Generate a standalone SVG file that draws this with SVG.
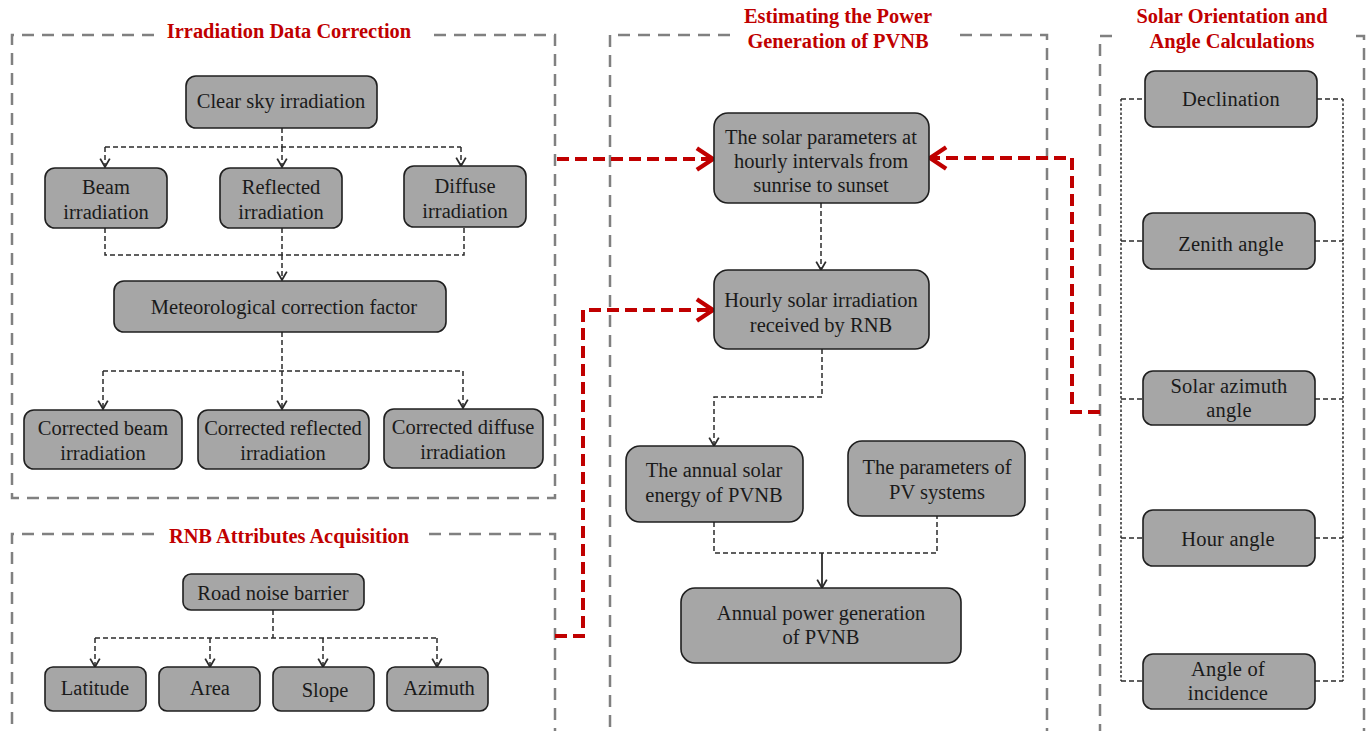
<svg xmlns="http://www.w3.org/2000/svg" width="1372" height="731" viewBox="0 0 1372 731">
<style>
.panel{fill:none;stroke:#808080;stroke-width:2.5;stroke-dasharray:12 8}
.title{font-family:"Liberation Serif",serif;font-weight:bold;font-size:20.4px;fill:#c00000;text-anchor:middle}
.box{fill:#a6a6a6;stroke:#1f1f1f;stroke-width:1.6}
.t{font-family:"Liberation Serif",serif;font-size:20.5px;fill:#1a1a1a;text-anchor:middle}
.ts{font-family:"Liberation Serif",serif;font-size:20.5px;fill:#1a1a1a;text-anchor:middle;letter-spacing:0.2px}
.c{fill:none;stroke:#2b2b2b;stroke-width:1.5;stroke-dasharray:5 3}
.cd{fill:none;stroke:#2b2b2b;stroke-width:1.5;stroke-dasharray:2.5 2}
.cs{fill:none;stroke:#2b2b2b;stroke-width:1.8}
.r{fill:none;stroke:#c00000;stroke-width:4;stroke-dasharray:12 6}
</style>
<defs>
<marker id="ad" markerUnits="userSpaceOnUse" markerWidth="12" markerHeight="12" viewBox="-1 -1 9 10" refX="7" refY="4" orient="auto">
<path d="M0,0 L7,4 L0,8" fill="none" stroke="#2b2b2b" stroke-width="1.5" stroke-dasharray="none"/>
</marker>
<marker id="ar" markerUnits="userSpaceOnUse" markerWidth="26" markerHeight="28" viewBox="-3 -3 20 26" refX="15" refY="10" orient="auto">
<path d="M0,0 L15,10 L0,20" fill="none" stroke="#c00000" stroke-width="4" stroke-dasharray="none" stroke-linejoin="miter"/>
</marker>
</defs>

<g id="panels">
<path class="panel" d="M154,35 L12,35 L12,498 L555,498 L555,35 L427,35"/>
<text class="title" x="289" y="38">Irradiation Data Correction</text>
<path class="panel" d="M154,534 L12,534 L12,740 M555,740 L555,534 L427,534"/>
<text class="title" x="289" y="543">RNB Attributes Acquisition</text>
<path class="panel" d="M730,35 L610,35 L610,740 M1047,740 L1047,35 L955,35"/>
<text class="title" x="838" y="23">Estimating the Power</text>
<text class="title" x="838" y="48">Generation of PVNB</text>
<path class="panel" d="M1112,36 L1100,36 L1100,740 M1364,740 L1364,36 L1352,36"/>
<text class="title" x="1232" y="23">Solar Orientation and</text>
<text class="title" x="1232" y="48">Angle Calculations</text>
</g>

<g id="connectors">
<path class="c" d="M282,128 V147 M105,147 H461"/>
<path class="c" d="M105,147 V167" marker-end="url(#ad)"/>
<path class="c" d="M282,147 V167" marker-end="url(#ad)"/>
<path class="c" d="M461,147 V166" marker-end="url(#ad)"/>
<path class="c" d="M105,228 V255 H464 V227 M282,228 V255"/>
<path class="c" d="M282,255 V280" marker-end="url(#ad)"/>
<path class="c" d="M282,332 V371 M103,371 H463"/>
<path class="c" d="M103,371 V409" marker-end="url(#ad)"/>
<path class="c" d="M282,371 V409" marker-end="url(#ad)"/>
<path class="c" d="M463,371 V408" marker-end="url(#ad)"/>
<path class="c" d="M273,610 V638 M95,638 H437"/>
<path class="c" d="M95,638 V667" marker-end="url(#ad)"/>
<path class="c" d="M210,638 V667" marker-end="url(#ad)"/>
<path class="c" d="M323,638 V667" marker-end="url(#ad)"/>
<path class="c" d="M437,638 V667" marker-end="url(#ad)"/>
<path class="c" d="M821,203 V270" marker-end="url(#ad)"/>
<path class="c" d="M822,349 V397 H714 V446" marker-end="url(#ad)"/>
<path class="c" d="M714,522 V553 H937 V516"/>
<path class="cs" d="M822,553 V588" marker-end="url(#ad)"/>
<path class="cd" d="M1121,99 V681 M1343,99 V681"/>
<path class="c" d="M1121,99 H1145 M1317,99 H1343 M1121,241 H1143 M1315,241 H1343 M1121,399 H1143 M1315,399 H1343 M1121,538 H1143 M1315,538 H1343 M1121,681 H1143 M1315,681 H1343"/>
<path class="r" d="M557,159 H713" marker-end="url(#ar)"/>
<path class="r" d="M555,636 H583 V310 H713" marker-end="url(#ar)"/>
<path class="r" d="M1100,412 H1072 V158 H930" marker-end="url(#ar)"/>
</g>

<g id="n-clear"><rect class="box" x="186" y="76" width="191" height="52" rx="10"/><text class="t" x="281" y="108">Clear sky irradiation</text></g>
<g id="n-beam"><rect class="box" x="45" y="168" width="122" height="60" rx="10"/><text class="t" x="106" y="194">Beam</text><text class="t" x="106" y="219">irradiation</text></g>
<g id="n-refl"><rect class="box" x="220" y="168" width="122" height="60" rx="10"/><text class="t" x="281" y="194">Reflected</text><text class="t" x="281" y="219">irradiation</text></g>
<g id="n-diff"><rect class="box" x="404" y="166" width="122" height="61" rx="10"/><text class="t" x="465" y="193">Diffuse</text><text class="t" x="465" y="218">irradiation</text></g>
<g id="n-meteo"><rect class="box" x="114" y="281" width="332" height="51" rx="10"/><text class="t" x="284" y="314">Meteorological correction factor</text></g>
<g id="n-cbeam"><rect class="box" x="24" y="410" width="158" height="59" rx="10"/><text class="t" x="103" y="435">Corrected beam</text><text class="t" x="103" y="460">irradiation</text></g>
<g id="n-crefl"><rect class="box" x="198" y="410" width="171" height="59" rx="10"/><text class="t" x="283" y="435">Corrected reflected</text><text class="t" x="283" y="460">irradiation</text></g>
<g id="n-cdiff"><rect class="box" x="384" y="409" width="159" height="59" rx="10"/><text class="t" x="463" y="434">Corrected diffuse</text><text class="t" x="463" y="459">irradiation</text></g>

<g id="n-rnb"><rect class="box" x="183" y="574" width="181" height="36" rx="8"/><text class="t" x="273" y="600">Road noise barrier</text></g>
<g id="n-lat"><rect class="box" x="45" y="667" width="101" height="44" rx="8"/><text class="t" x="95" y="695">Latitude</text></g>
<g id="n-area"><rect class="box" x="159" y="667" width="101" height="44" rx="8"/><text class="t" x="210" y="695">Area</text></g>
<g id="n-slope"><rect class="box" x="273" y="667" width="101" height="44" rx="8"/><text class="t" x="325" y="697">Slope</text></g>
<g id="n-azi"><rect class="box" x="387" y="667" width="101" height="44" rx="8"/><text class="t" x="439" y="695">Azimuth</text></g>

<g id="n-solarpar"><rect class="box" x="714" y="113" width="215" height="90" rx="14"/><text class="t" x="821" y="144">The solar parameters at</text><text class="t" x="821" y="168">hourly intervals from</text><text class="t" x="821" y="192">sunrise to sunset</text></g>
<g id="n-hourly"><rect class="box" x="714" y="270" width="215" height="79" rx="14"/><text class="t" x="821" y="307">Hourly solar irradiation</text><text class="t" x="821" y="332">received by RNB</text></g>
<g id="n-annual"><rect class="box" x="626" y="446" width="177" height="76" rx="14"/><text class="t" x="714" y="477">The annual solar</text><text class="t" x="714" y="502">energy of PVNB</text></g>
<g id="n-pvpar"><rect class="box" x="848" y="441" width="177" height="75" rx="14"/><text class="t" x="937" y="474">The parameters of</text><text class="t" x="937" y="499">PV systems</text></g>
<g id="n-power"><rect class="box" x="681" y="588" width="280" height="75" rx="14"/><text class="t" x="821" y="620">Annual power generation</text><text class="t" x="821" y="644">of PVNB</text></g>

<g id="n-decl"><rect class="box" x="1145" y="71" width="172" height="56" rx="10"/><text class="ts" x="1231" y="106">Declination</text></g>
<g id="n-zen"><rect class="box" x="1143" y="213" width="172" height="56" rx="10"/><text class="ts" x="1231" y="251">Zenith angle</text></g>
<g id="n-saz"><rect class="box" x="1143" y="371" width="172" height="54" rx="10"/><text class="ts" x="1229" y="393">Solar azimuth</text><text class="ts" x="1229" y="417">angle</text></g>
<g id="n-hour"><rect class="box" x="1143" y="510" width="172" height="56" rx="10"/><text class="ts" x="1228" y="546">Hour angle</text></g>
<g id="n-inc"><rect class="box" x="1143" y="654" width="172" height="55" rx="10"/><text class="ts" x="1228" y="676">Angle of</text><text class="ts" x="1228" y="700">incidence</text></g>
</svg>
